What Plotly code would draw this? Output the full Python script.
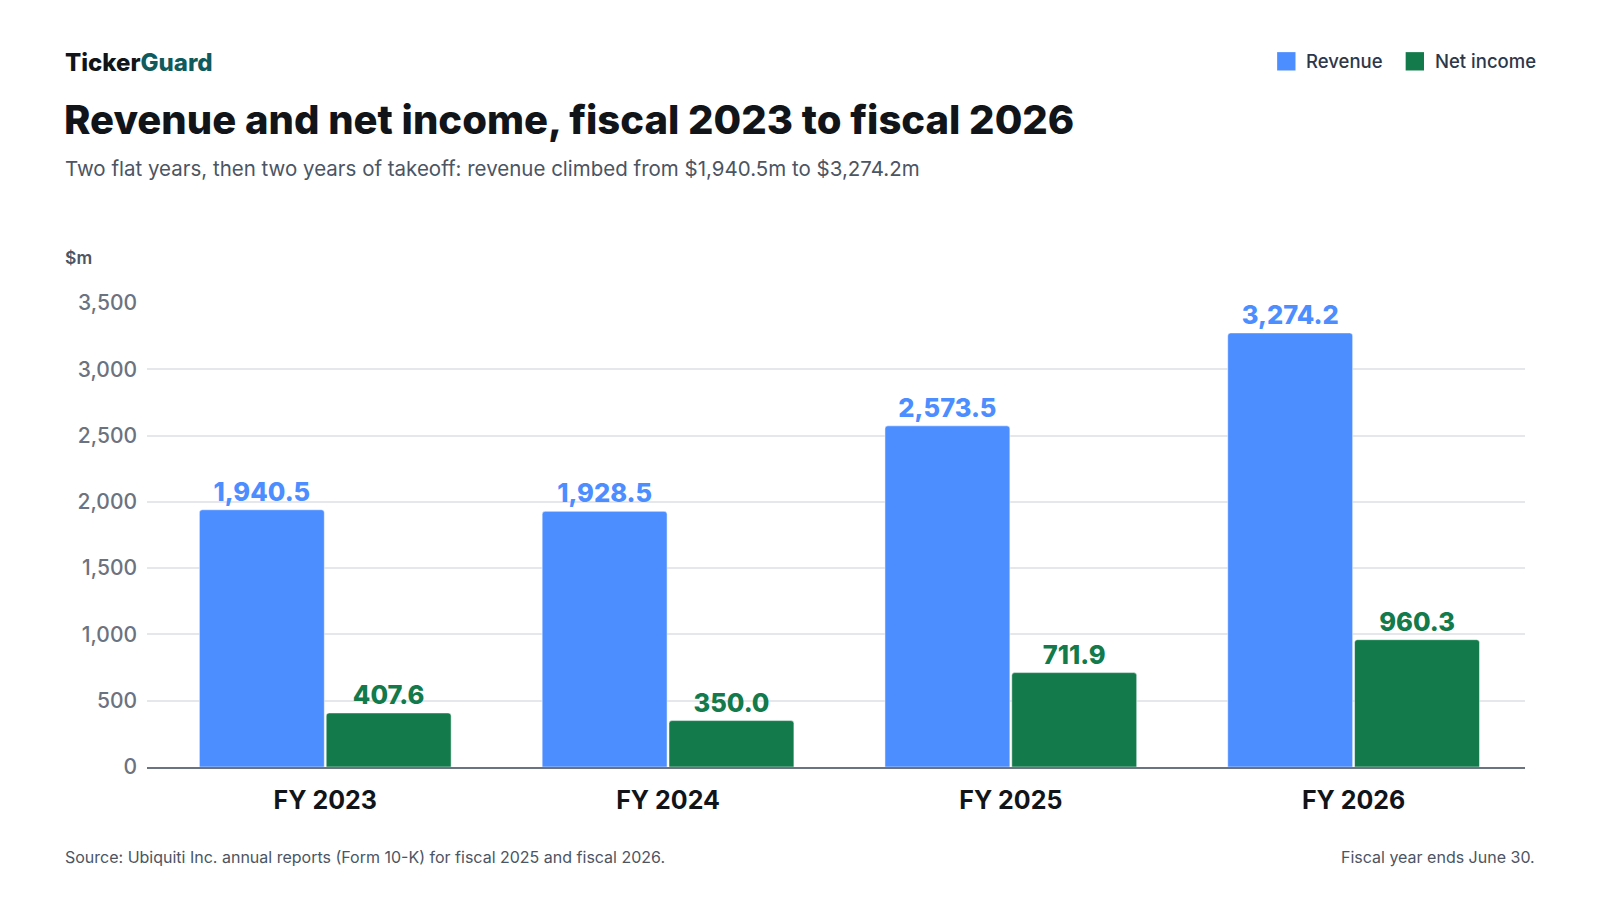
import plotly.graph_objects as go

categories = ["FY 2023", "FY 2024", "FY 2025", "FY 2026"]
revenue = [1940.5, 1928.5, 2573.5, 3274.2]
net_income = [407.6, 350.0, 711.9, 960.3]
y_ticks = [0, 500, 1000, 1500, 2000, 2500, 3000, 3500]
y_tick_labels = ["0", "500", "1,000", "1,500", "2,000", "2,500", "3,000", "3,500"]
series_names = ["Revenue", "Net income"]

BLUE = "#4C8DFF"
GREEN = "#127A4B"
FONT = "Inter"

W, H = 1600, 900
S, OFF = 0.98, 8.0  # screenshot scale and offset

def to_page(v):
    return (v - OFF) / S

L, R, T, B = to_page(144), to_page(1495), to_page(297), to_page(752)

def px(x):
    return (to_page(x) - L) / (R - L)

def py(y):
    return (B - to_page(y)) / (B - T)

fig = go.Figure()
for name, vals, col in [(series_names[0], revenue, BLUE), (series_names[1], net_income, GREEN)]:
    fig.add_trace(go.Bar(
        name=name, x=categories, y=vals,
        marker=dict(color=col, line=dict(color="rgba(255,255,255,0.5)", width=1)),
        text=[f"{v:,.1f}" for v in vals], textposition="outside",
        textfont=dict(family=FONT, size=25.5, color=col, weight=800),
        cliponaxis=False, hoverinfo="skip", showlegend=False,
    ))

def ann(text, x, y, size, color, xanchor="left", weight=None):
    f = dict(family=FONT, size=size, color=color)
    if weight:
        f["weight"] = weight
    return dict(text=text, x=px(x), y=py(y), xref="paper", yref="paper",
                xanchor=xanchor, yanchor="middle", showarrow=False, font=f)

annotations = [
    ann("Ticker<span style='color:#0E5A5C'>Guard</span>", 62, 61, 24, "#111418", weight=800),
    ann("Revenue and net income, fiscal 2023 to fiscal 2026", 61, 117, 40, "#111418", weight=800),
    ann("Two flat years, then two years of takeoff: revenue climbed from $1,940.5m to $3,274.2m",
        62, 165, 20.5, "#4B5563"),
    ann("$m", 62, 252, 17.5, "#4B5563", weight=600),
    ann("Source: Ubiquiti Inc. annual reports (Form 10-K) for fiscal 2025 and fiscal 2026.",
        62, 840, 16, "#4B5563"),
    ann("Fiscal year ends June 30.", 1507, 840, 16, "#4B5563", xanchor="right"),
    ann(series_names[0], 1278, 60, 18.5, "#2D3748", weight=500),
    ann(series_names[1], 1405, 60, 18.5, "#2D3748", weight=500),
]

shapes = []
for x0, col in [(1252, BLUE), (1378, GREEN)]:
    shapes.append(dict(type="rect", xref="paper", yref="paper",
                       x0=px(x0), x1=px(x0 + 18), y0=py(69), y1=py(51),
                       fillcolor=col, line=dict(width=0)))

fig.update_layout(
    width=W, height=H,
    margin=dict(l=L, r=W - R, t=T, b=H - B, autoexpand=False),
    paper_bgcolor="white", plot_bgcolor="white",
    font=dict(family=FONT, color="#111418"),
    barmode="group", bargap=0.26, bargroupgap=0.015, barcornerradius=3,
    showlegend=False,
    annotations=annotations,
    shapes=shapes,
    xaxis=dict(range=[-0.52, 3.5], showgrid=False, showline=True, linecolor="#6B7280", linewidth=2,
               ticks="", ticklabelstandoff=10,
               tickfont=dict(family=FONT, size=25, color="#111418", weight=700),
               fixedrange=True),
    yaxis=dict(range=[0, 3500], tickvals=y_ticks, ticktext=y_tick_labels, showgrid=True,
               gridcolor="#E5E7EB", gridwidth=1.5, zeroline=False, showline=False, ticks="",
               ticklabelstandoff=9,
               tickfont=dict(family=FONT, size=21, color="#6B7280", weight=500), fixedrange=True),
)

fig.write_html("out.html")
